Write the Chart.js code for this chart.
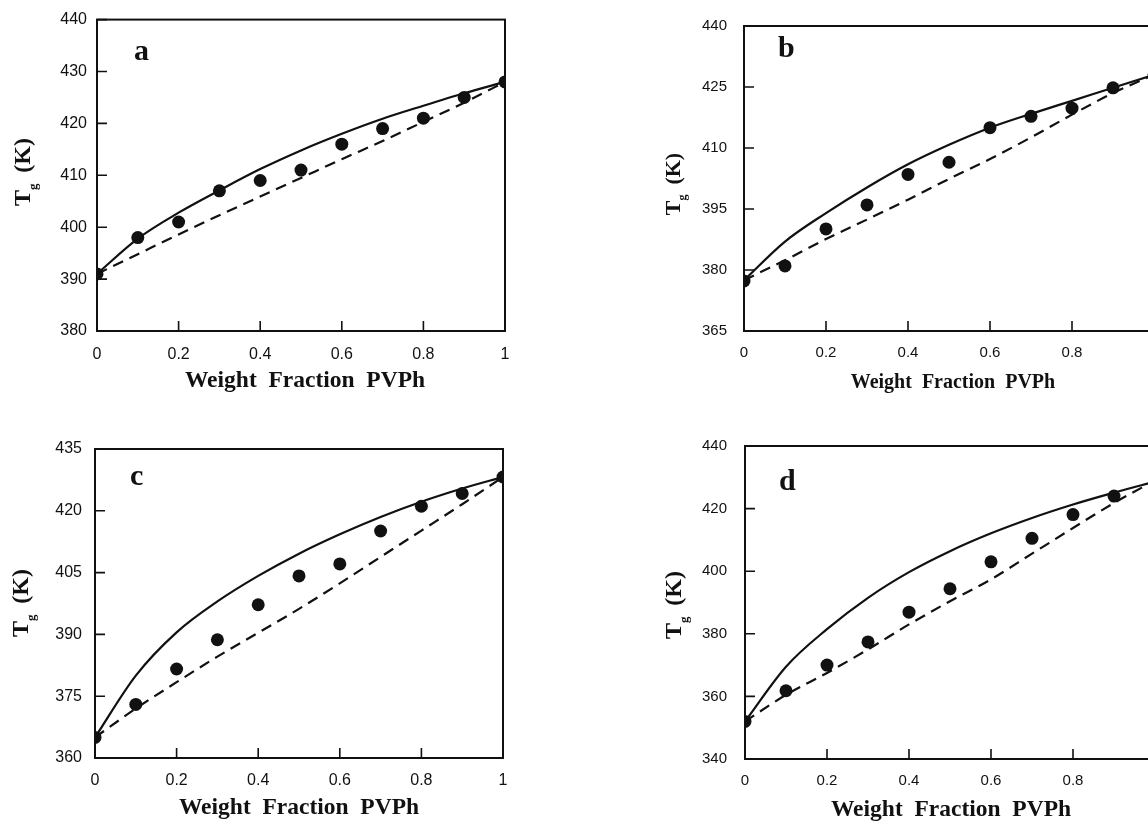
<!DOCTYPE html>
<html>
<head>
<meta charset="utf-8">
<title>Tg vs weight fraction PVPh</title>
<script src="https://cdn.jsdelivr.net/npm/chart.js@4.4.0/dist/chart.umd.min.js"></script>
<style>
    html, body { margin: 0; padding: 0; background: #fff; overflow: hidden; width: 1148px; height: 822px; }
    canvas { position: absolute; }
</style>
</head>
<body>
<canvas id="chartA" width="560" height="400" style="left:0;top:0"></canvas>
<canvas id="chartB" width="620" height="400" style="left:560px;top:0"></canvas>
<canvas id="chartC" width="560" height="422" style="left:0;top:400px"></canvas>
<canvas id="chartD" width="620" height="422" style="left:560px;top:400px"></canvas>
<script>
/* ------------------ DATA ------------------ */
const weightFraction = [0, 0.1, 0.2, 0.3, 0.4, 0.5, 0.6, 0.7, 0.8, 0.9, 1];

// panel a
const measuredA = [391, 398, 401, 407, 409, 411, 416, 419, 421, 425, 428];
const kweiA     = [391, 397.8, 402.8, 407.1, 411.2, 414.8, 418, 420.9, 423.4, 425.8, 428];
const foxA      = [391, 394.8, 398.6, 402.3, 405.9, 409.5, 413.1, 416.6, 420.3, 424, 428];
const yTicksA   = [380, 390, 400, 410, 420, 430, 440];

// panel b
const measuredB = [377.3, 381, 390.1, 396, 403.5, 406.5, 415, 417.8, 419.8, 424.8, 428];
const kweiB     = [377.5, 387, 394, 400.3, 406, 410.8, 415, 418.4, 421.6, 424.8, 428];
const foxB      = [377.5, 382.4, 387.6, 392.4, 397.3, 402.4, 407.3, 412.6, 418.2, 423.5, 428];
const yTicksB   = [365, 380, 395, 410, 425, 440];

// panel c
const measuredC = [365, 373, 381.6, 388.7, 397.2, 404.2, 407.1, 415.1, 421.1, 424.2, 428.2];
const kweiC     = [365, 380, 390.5, 398, 404.2, 409.6, 414.3, 418.5, 422.2, 425.4, 428.2];
const foxC      = [365, 372, 378.4, 384.6, 390.4, 396.2, 402.4, 408.8, 415.2, 421.6, 428.2];
const yTicksC   = [360, 375, 390, 405, 420, 435];

// panel d
const measuredD = [352, 361.8, 370, 377.4, 386.9, 394.4, 403, 410.5, 418.1, 424, 429];
const kweiD     = [352, 369.5, 381.5, 391.5, 399.7, 406.4, 412.1, 417, 421.3, 425.1, 428.6];
const foxD      = [352, 360.5, 367.5, 375, 383, 390.4, 397.4, 405.6, 413.8, 421.8, 429];
const yTicksD   = [340, 360, 380, 400, 420, 440];

const xTicks = [0, 0.2, 0.4, 0.6, 0.8, 1];

/* ------------------ FRAME / TEXT PLUGIN ------------------ */
const framePlugin = {
    id: 'frame',
    beforeDatasetsDraw(chart) {
        const { ctx, chartArea: a, scales: { x, y } } = chart;
        ctx.save();
        ctx.strokeStyle = '#111';
        ctx.lineWidth = 2;
        ctx.strokeRect(a.left, a.top, a.right - a.left, a.bottom - a.top);
        ctx.lineWidth = 1.6;
        ctx.beginPath();
        // inward tick marks
        x.ticks.forEach(t => {
            const px = x.getPixelForValue(t.value);
            ctx.moveTo(px, a.bottom);
            ctx.lineTo(px, a.bottom - 10);
        });
        y.ticks.forEach(t => {
            const py = y.getPixelForValue(t.value);
            ctx.moveTo(a.left, py);
            ctx.lineTo(a.left + 10, py);
        });
        ctx.stroke();
        ctx.restore();
    },
    afterDraw(chart, args, opts) {
        const { ctx } = chart;
        ctx.save();
        ctx.fillStyle = '#111';

        // panel letter
        ctx.font = `bold ${opts.letterSize}px "Liberation Serif"`;
        ctx.textAlign = 'left';
        ctx.textBaseline = 'alphabetic';
        ctx.fillText(opts.letter, opts.letterX, opts.letterY);

        // x title
        ctx.font = `bold ${opts.titleSize}px "Liberation Serif"`;
        ctx.textAlign = 'center';
        ctx.textBaseline = 'middle';
        ctx.fillText('Weight  Fraction  PVPh', opts.titleX, opts.titleY);

        // y title: T_g (K), rotated
        const big = `bold ${opts.yTitleSize}px "Liberation Serif"`;
        const small = `bold ${Math.round(opts.yTitleSize * 0.55)}px "Liberation Serif"`;
        ctx.font = big;
        const wT = ctx.measureText('T').width;
        const wK = ctx.measureText('(K)').width;
        ctx.font = small;
        const wg = ctx.measureText('g').width;
        const gap = opts.yTitleSize * 0.45;
        const total = wT + wg + gap + wK;
        ctx.translate(opts.yTitleX, opts.yTitleY);
        ctx.rotate(-Math.PI / 2);
        ctx.textAlign = 'left';
        ctx.textBaseline = 'middle';
        let cx = -total / 2;
        ctx.font = big;
        ctx.fillText('T', cx, 0);
        cx += wT;
        ctx.font = small;
        ctx.fillText('g', cx, opts.yTitleSize * 0.42);
        cx += wg + gap;
        ctx.font = big;
        ctx.fillText('(K)', cx, 0);
        ctx.restore();
    }
};

/* ------------------ BUILD A PANEL ------------------ */
function pairs(ys) {
    return weightFraction.map((w, i) => ({ x: w, y: ys[i] }));
}

function makePanel(id, measured, kwei, fox, yTicks, box, text) {
    const canvas = document.getElementById(id);
    const W = canvas.width, H = canvas.height;
    const step = yTicks[1] - yTicks[0];

    return new Chart(canvas, {
        type: 'scatter',
        data: {
            datasets: [
                {
                    label: 'Kwei',
                    data: pairs(kwei),
                    showLine: true,
                    borderColor: '#111',
                    borderWidth: 2.2,
                    pointRadius: 0,
                    cubicInterpolationMode: 'monotone'
                },
                {
                    label: 'Fox',
                    data: pairs(fox),
                    showLine: true,
                    borderColor: '#111',
                    borderWidth: 2.2,
                    borderDash: [11, 7],
                    pointRadius: 0,
                    cubicInterpolationMode: 'monotone'
                },
                {
                    label: 'Measured',
                    data: pairs(measured),
                    showLine: false,
                    pointRadius: 6.5,
                    pointBackgroundColor: '#111',
                    pointBorderColor: '#111',
                    pointBorderWidth: 0
                }
            ]
        },
        options: {
            responsive: false,
            animation: false,
            events: [],
            layout: {
                padding: { top: box.top, right: W - box.right, left: 0, bottom: 0 }
            },
            scales: {
                x: {
                    type: 'linear',
                    min: xTicks[0],
                    max: xTicks[xTicks.length - 1],
                    afterBuildTicks: scale => { scale.ticks = xTicks.map(v => ({ value: v })); },
                    afterFit: scale => { scale.height = H - box.bottom; },
                    grid: { display: false, drawTicks: false },
                    border: { display: false },
                    ticks: {
                        padding: text.xPad,
                        color: '#111',
                        font: { family: '"Liberation Sans"', size: text.tickSize },
                        maxRotation: 0,
                        callback: v => String(v)
                    }
                },
                y: {
                    type: 'linear',
                    min: yTicks[0],
                    max: yTicks[yTicks.length - 1],
                    ticks: {
                        stepSize: step,
                        padding: text.yPad,
                        color: '#111',
                        font: { family: '"Liberation Sans"', size: text.tickSize }
                    },
                    afterFit: scale => { scale.width = box.left; },
                    grid: { display: false, drawTicks: false },
                    border: { display: false }
                }
            },
            plugins: {
                legend: { display: false },
                tooltip: { enabled: false },
                frame: text
            }
        },
        plugins: [framePlugin]
    });
}

makePanel('chartA', measuredA, kweiA, foxA, yTicksA,
    { left: 97, right: 505, top: 19, bottom: 331 },
    { letter: 'a', letterX: 134, letterY: 60, letterSize: 30, titleSize: 23.5, titleX: 305, titleY: 381,
      yTitleSize: 24, yTitleX: 24, yTitleY: 172, tickSize: 16, xPad: 14, yPad: 10 });

makePanel('chartB', measuredB, kweiB, foxB, yTicksB,
    { left: 184, right: 594, top: 21, bottom: 331 },
    { letter: 'b', letterX: 218, letterY: 57, letterSize: 30, titleSize: 20, titleX: 393, titleY: 383,
      yTitleSize: 22, yTitleX: 114, yTitleY: 184, tickSize: 15, xPad: 13, yPad: 17 });

makePanel('chartC', measuredC, kweiC, foxC, yTicksC,
    { left: 95, right: 503, top: 49, bottom: 358 },
    { letter: 'c', letterX: 130, letterY: 85, letterSize: 30, titleSize: 23.5, titleX: 299, titleY: 408,
      yTitleSize: 24, yTitleX: 22, yTitleY: 203, tickSize: 16, xPad: 13, yPad: 13 });

makePanel('chartD', measuredD, kweiD, foxD, yTicksD,
    { left: 185, right: 595, top: 46, bottom: 359 },
    { letter: 'd', letterX: 219, letterY: 90, letterSize: 30, titleSize: 23.5, titleX: 391, titleY: 410,
      yTitleSize: 24, yTitleX: 115, yTitleY: 205, tickSize: 15, xPad: 13, yPad: 18 });
</script>
</body>
</html>
